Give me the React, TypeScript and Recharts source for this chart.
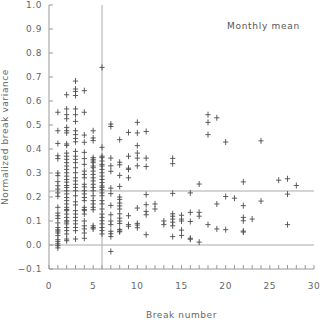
import { ScatterChart, Scatter, XAxis, YAxis, ReferenceLine } from 'recharts'

// normalized break variance, grouped by break number
const b1 = [0.553, 0.476, 0.423, 0.372, 0.36, 0.3, 0.289, 0.264, 0.247, 0.233, 0.217, 0.203, 0.157, 0.133, 0.122, 0.111, 0.092, 0.073, 0.063, 0.058, 0.05, 0.039, 0.022, 0.014, 0.005, -0.003, -0.012]
const b2 = [0.626, 0.567, 0.543, 0.526, 0.49, 0.476, 0.467, 0.421, 0.415, 0.383, 0.37, 0.357, 0.343, 0.329, 0.315, 0.301, 0.287, 0.273, 0.262, 0.248, 0.24, 0.226, 0.213, 0.198, 0.185, 0.171, 0.157, 0.148, 0.143, 0.129, 0.115, 0.101, 0.096, 0.088, 0.073, 0.06, 0.046, 0.025, 0.018]
const b3 = [0.683, 0.65, 0.64, 0.623, 0.567, 0.543, 0.515, 0.476, 0.46, 0.444, 0.43, 0.39, 0.37, 0.357, 0.343, 0.322, 0.301, 0.28, 0.267, 0.253, 0.24, 0.226, 0.205, 0.18, 0.167, 0.143, 0.129, 0.115, 0.101, 0.088, 0.073, 0.06, 0.025]
const b4 = [0.643, 0.553, 0.458, 0.428, 0.386, 0.36, 0.336, 0.308, 0.294, 0.28, 0.253, 0.242, 0.226, 0.213, 0.198, 0.185, 0.157, 0.148, 0.143, 0.129, 0.1, 0.08, 0.067, 0.05, 0.028]
const b5 = [0.476, 0.446, 0.435, 0.364, 0.357, 0.35, 0.343, 0.329, 0.322, 0.308, 0.294, 0.28, 0.267, 0.253, 0.24, 0.226, 0.205, 0.185, 0.171, 0.157, 0.147, 0.08, 0.073, 0.067]
const b6 = [0.74, 0.407, 0.37, 0.364, 0.35, 0.336, 0.329, 0.315, 0.301, 0.287, 0.273, 0.26, 0.246, 0.24, 0.23, 0.217, 0.205, 0.185, 0.171, 0.15, 0.129, 0.115, 0.101, 0.088, 0.073, 0.06, 0.046]
const b7 = [0.504, 0.494, 0.362, 0.33, 0.307, 0.237, 0.214, 0.165, 0.126, 0.1, 0.085, 0.057, 0.047, 0.035, -0.027]
const b8 = [0.439, 0.345, 0.334, 0.29, 0.244, 0.2, 0.19, 0.175, 0.163, 0.15, 0.13, 0.112, 0.1, 0.09, 0.065, 0.058, 0.055]
const b9 = [0.469, 0.37, 0.32, 0.315, 0.28, 0.122, 0.085, 0.078]
const b10 = [0.511, 0.467, 0.414, 0.383, 0.362, 0.33, 0.154, 0.09, 0.083, 0.072]
const b11 = [0.473, 0.362, 0.327, 0.21, 0.168, 0.14, 0.126, 0.043]
const b12 = [0.171, 0.15]
const b13 = [0.1, 0.085]
const b14 = [0.361, 0.339, 0.215, 0.13, 0.12, 0.108, 0.095, 0.08, 0.035]
const b15 = [0.124, 0.108, 0.1, 0.062, 0.04]
const b16 = [0.217, 0.136, 0.098, 0.028, 0.024]
const b17 = [0.254, 0.136, 0.12, 0.012]
const b18 = [0.543, 0.511, 0.46, 0.085]
const b19 = [0.53, 0.171, 0.067]
const b20 = [0.429, 0.202, 0.064]
const b21 = [0.195]
const b22 = [0.263, 0.164, 0.115, 0.101, 0.058, 0.054]
const b23 = [0.108]
const b24 = [0.434, 0.183]
const b26 = [0.27]
const b27 = [0.276, 0.212, 0.085]
const b28 = [0.248]

const columns: [number, number[]][] = [
  [1, b1], [2, b2], [3, b3], [4, b4], [5, b5], [6, b6], [7, b7], [8, b8],
  [9, b9], [10, b10], [11, b11], [12, b12], [13, b13], [14, b14], [15, b15],
  [16, b16], [17, b17], [18, b18], [19, b19], [20, b20], [21, b21], [22, b22],
  [23, b23], [24, b24], [26, b26], [27, b27], [28, b28],
]

const meanBreakNumber = 6
const meanVariance = 0.225

const xTicks = [0, 1, 2, 3, 4, 5, 6, 7, 8, 9, 10, 11, 12, 13, 14, 15, 16, 17, 18, 19, 20, 21, 22, 23, 24, 25, 26, 27, 28, 29, 30]
const xLabelTicks = [0, 5, 10, 15, 20, 25, 30]
const yTicks = [-0.1, 0, 0.1, 0.2, 0.3, 0.4, 0.5, 0.6, 0.7, 0.8, 0.9, 1.0]

const points = columns.flatMap(([n, vals]) => vals.map((v) => ({ n, v })))

const font = 'DejaVu Sans'
const frame = '#999'
const textStyle = { fontSize: 9, fill: '#666', fontFamily: font, letterSpacing: 0.6 }

const Plus = (props: any) => {
  const { cx, cy } = props
  if (cx == null || cy == null) return <g />
  return (
    <path
      d={`M${cx - 2.6},${cy}H${cx + 2.6}M${cx},${cy - 3}V${cy + 3}`}
      stroke="#4d4d4d"
      strokeWidth={0.9}
      fill="none"
    />
  )
}

export default function App() {
  return (
    <div style={{ position: 'relative', width: 320, height: 320, background: '#fff' }}>
      <style>{'body{margin:0}'}</style>
      <ScatterChart width={320} height={320} margin={{ top: 5, right: 6, bottom: 0, left: 0 }}>
        <XAxis
          xAxisId="b"
          dataKey="n"
          type="number"
          domain={[0, 30]}
          ticks={xTicks}
          interval={0}
          height={51}
          stroke={frame}
          tickSize={-4}
          tickMargin={18}
          tick={textStyle}
          tickFormatter={(v: number) => (xLabelTicks.includes(v) ? String(v) : '')}
          label={{ value: 'Break number', position: 'insideBottom', offset: 2, style: { ...textStyle, textAnchor: 'middle' } }}
        />
        <XAxis
          xAxisId="t"
          orientation="top"
          dataKey="n"
          type="number"
          domain={[0, 30]}
          ticks={xTicks}
          interval={0}
          height={0}
          stroke={frame}
          tickSize={-4}
          tickFormatter={() => ''}
        />
        <YAxis
          yAxisId="l"
          dataKey="v"
          type="number"
          domain={[-0.1, 1.0]}
          ticks={yTicks}
          interval={0}
          width={49}
          stroke={frame}
          tickSize={-4}
          tickMargin={11}
          tick={textStyle}
          tickFormatter={(v: number) => v.toFixed(1).replace('-', '\u2212')}
          label={{ value: 'Normalized break variance', angle: -90, position: 'insideLeft', offset: 5, style: { ...textStyle, textAnchor: 'middle' } }}
        />
        <YAxis
          yAxisId="r"
          orientation="right"
          dataKey="v"
          type="number"
          domain={[-0.1, 1.0]}
          ticks={yTicks}
          interval={0}
          width={0}
          stroke={frame}
          tickSize={-4}
          tickFormatter={() => ''}
        />
        <ReferenceLine xAxisId="b" yAxisId="l" x={meanBreakNumber} stroke="#aaa" strokeWidth={1} />
        <ReferenceLine xAxisId="b" yAxisId="l" y={meanVariance} stroke="#aaa" strokeWidth={1} />
        <ReferenceLine xAxisId="b" yAxisId="l" y={0} stroke="#aaa" strokeWidth={1} />
        <Scatter xAxisId="t" yAxisId="r" data={points} shape={() => <g />} isAnimationActive={false} />
        <Scatter xAxisId="b" yAxisId="l" data={points} shape={Plus} isAnimationActive={false} />
      </ScatterChart>
      <div
        style={{
          position: 'absolute',
          left: 227,
          top: 21,
          fontFamily: font,
          fontSize: 9,
          letterSpacing: 0.7,
          color: '#555',
        }}
      >
        Monthly mean
      </div>
    </div>
  )
}
